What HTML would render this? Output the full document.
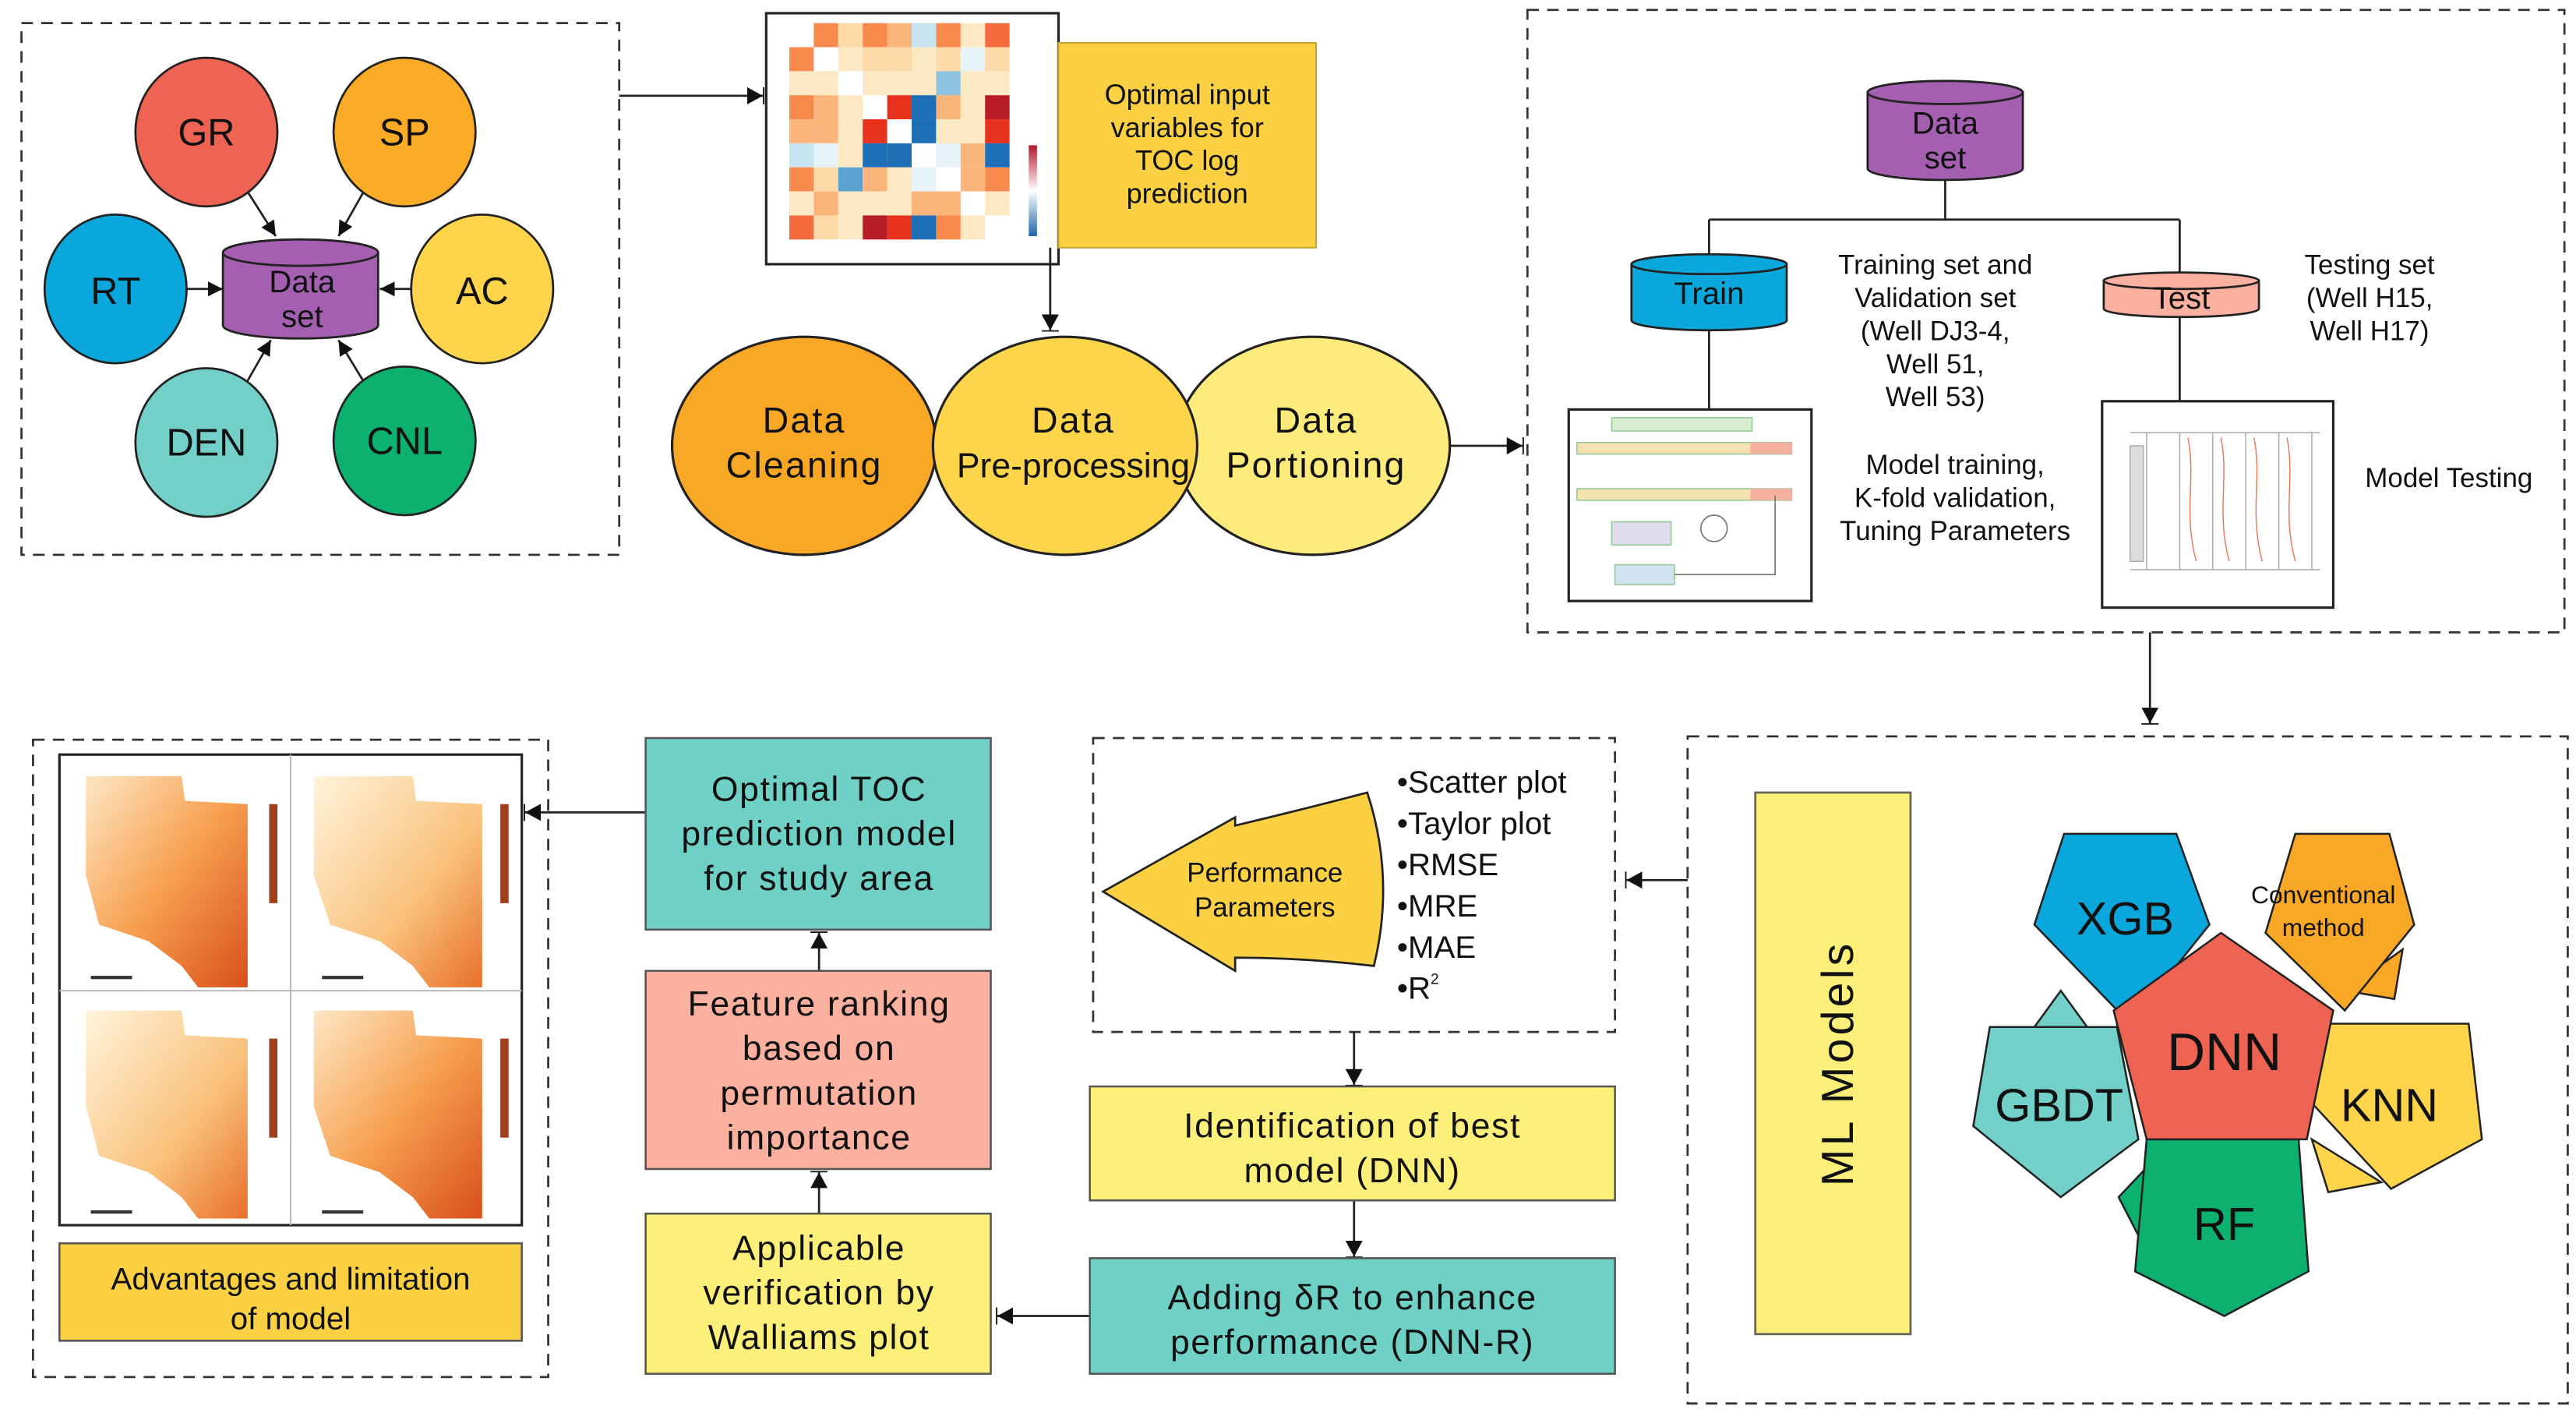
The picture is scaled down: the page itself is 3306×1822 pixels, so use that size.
<!DOCTYPE html>
<html><head><meta charset="utf-8"><style>
html,body{margin:0;padding:0;background:#fff;}
svg{display:block;}
text{font-family:"Liberation Sans",Arial,sans-serif;fill:#111;}
</style></head><body>
<svg width="3306" height="1822" viewBox="0 0 1560 860" preserveAspectRatio="none" xmlns="http://www.w3.org/2000/svg">
<defs>
<marker id="ah" viewBox="0 0 10 10" refX="10" refY="5" markerWidth="7" markerHeight="7" orient="auto"><path d="M0,0 L10,5 L0,10 z" fill="#111"/></marker>
<marker id="bh" viewBox="0 0 12 12" refX="11" refY="6" markerWidth="8" markerHeight="8" orient="auto"><path d="M0,0 L11,6 L0,12 z M11,0 L12,0 L12,12 L11,12z" fill="#111"/></marker>
<linearGradient id="mapg" x1="0" y1="0" x2="1" y2="1"><stop offset="0" stop-color="#fde7c4"/><stop offset="0.5" stop-color="#f7a050"/><stop offset="1" stop-color="#d8501a"/></linearGradient>
<linearGradient id="mapg2" x1="0" y1="0" x2="1" y2="1"><stop offset="0" stop-color="#fff4dc"/><stop offset="0.6" stop-color="#f9c07a"/><stop offset="1" stop-color="#e8702a"/></linearGradient>
<linearGradient id="cb" x1="0" y1="0" x2="0" y2="1"><stop offset="0" stop-color="#b2182b"/><stop offset="0.5" stop-color="#fff"/><stop offset="1" stop-color="#2166ac"/></linearGradient>
</defs>
<g fill="none" stroke="#333" stroke-width="1.3" stroke-dasharray="7,5">
<rect x="13" y="14" width="362" height="322"/>
<rect x="925" y="6" width="628" height="377"/>
<rect x="1022" y="446" width="533" height="404"/>
<rect x="662" y="447" width="316" height="178"/>
<rect x="20" y="448" width="312" height="386"/>
</g>
<g stroke="#222" stroke-width="1.3">
<line x1="148" y1="113" x2="167" y2="143" marker-end="url(#ah)"/>
<line x1="222" y1="113" x2="205" y2="143" marker-end="url(#ah)"/>
<line x1="112" y1="175" x2="135" y2="175" marker-end="url(#ah)"/>
<line x1="250" y1="175" x2="230" y2="175" marker-end="url(#ah)"/>
<line x1="148" y1="234" x2="164" y2="206" marker-end="url(#ah)"/>
<line x1="222" y1="234" x2="205" y2="206" marker-end="url(#ah)"/>
<ellipse cx="125" cy="80" rx="43" ry="45" fill="#ef6352"/>
<ellipse cx="245" cy="80" rx="43" ry="45" fill="#fbab25"/>
<ellipse cx="70" cy="175" rx="43" ry="45" fill="#0aa7dd"/>
<ellipse cx="292" cy="175" rx="43" ry="45" fill="#fdd44a"/>
<ellipse cx="125" cy="268" rx="43" ry="45" fill="#72d0c9"/>
<ellipse cx="245" cy="267" rx="43" ry="45" fill="#0cb06f"/>
<path d="M135,153 L135,197 A47,8 0 0 0 229,197 L229,153 A47,8 0 0 0 135,153 Z" fill="#a45fb0"/>
<ellipse cx="182" cy="153" rx="47" ry="8" fill="#a45fb0"/>
</g>
<g font-size="23" text-anchor="middle">
<text x="125" y="88">GR</text><text x="245" y="88">SP</text><text x="70" y="184">RT</text>
<text x="292" y="184">AC</text><text x="125" y="276">DEN</text><text x="245" y="275">CNL</text>
</g>
<text x="183" y="177" font-size="19" text-anchor="middle">Data</text>
<text x="183" y="198" font-size="19" text-anchor="middle">set</text>
<line x1="375" y1="58" x2="462" y2="58" stroke="#222" stroke-width="1.3" marker-end="url(#bh)"/>
<rect x="464" y="8" width="177" height="152" fill="#fff" stroke="#222" stroke-width="1.5"/>
<g transform="translate(478,14) scale(1.14,1.12) translate(-485,-14)">
<rect x="485" y="14" width="13" height="13" fill="#fff"/><rect x="498" y="14" width="13" height="13" fill="#f98a4d"/><rect x="511" y="14" width="13" height="13" fill="#fdd9a8"/><rect x="524" y="14" width="13" height="13" fill="#f98a4d"/><rect x="537" y="14" width="13" height="13" fill="#fbb57a"/><rect x="550" y="14" width="13" height="13" fill="#c7e4f0"/><rect x="563" y="14" width="13" height="13" fill="#f98a4d"/><rect x="576" y="14" width="13" height="13" fill="#fde8c4"/><rect x="589" y="14" width="13" height="13" fill="#f56b3d"/>
<rect x="485" y="27" width="13" height="13" fill="#f98a4d"/><rect x="498" y="27" width="13" height="13" fill="#fff"/><rect x="511" y="27" width="13" height="13" fill="#fde8c4"/><rect x="524" y="27" width="13" height="13" fill="#fdd9a8"/><rect x="537" y="27" width="13" height="13" fill="#fdd9a8"/><rect x="550" y="27" width="13" height="13" fill="#fde8c4"/><rect x="563" y="27" width="13" height="13" fill="#fdd9a8"/><rect x="576" y="27" width="13" height="13" fill="#e6f3f8"/><rect x="589" y="27" width="13" height="13" fill="#fdd9a8"/>
<rect x="485" y="40" width="13" height="13" fill="#fde8c4"/><rect x="498" y="40" width="13" height="13" fill="#fde8c4"/><rect x="511" y="40" width="13" height="13" fill="#fff"/><rect x="524" y="40" width="13" height="13" fill="#fde8c4"/><rect x="537" y="40" width="13" height="13" fill="#fde8c4"/><rect x="550" y="40" width="13" height="13" fill="#fde8c4"/><rect x="563" y="40" width="13" height="13" fill="#8ec2de"/><rect x="576" y="40" width="13" height="13" fill="#fde8c4"/><rect x="589" y="40" width="13" height="13" fill="#fde8c4"/>
<rect x="485" y="53" width="13" height="13" fill="#f98a4d"/><rect x="498" y="53" width="13" height="13" fill="#fbb57a"/><rect x="511" y="53" width="13" height="13" fill="#fde8c4"/><rect x="524" y="53" width="13" height="13" fill="#fff"/><rect x="537" y="53" width="13" height="13" fill="#e8321e"/><rect x="550" y="53" width="13" height="13" fill="#1f6fb7"/><rect x="563" y="53" width="13" height="13" fill="#fbb57a"/><rect x="576" y="53" width="13" height="13" fill="#fde8c4"/><rect x="589" y="53" width="13" height="13" fill="#b81d25"/>
<rect x="485" y="66" width="13" height="13" fill="#fbb57a"/><rect x="498" y="66" width="13" height="13" fill="#fbb57a"/><rect x="511" y="66" width="13" height="13" fill="#fde8c4"/><rect x="524" y="66" width="13" height="13" fill="#e8321e"/><rect x="537" y="66" width="13" height="13" fill="#fff"/><rect x="550" y="66" width="13" height="13" fill="#1f6fb7"/><rect x="563" y="66" width="13" height="13" fill="#fde8c4"/><rect x="576" y="66" width="13" height="13" fill="#fde8c4"/><rect x="589" y="66" width="13" height="13" fill="#e8321e"/>
<rect x="485" y="79" width="13" height="13" fill="#c7e4f0"/><rect x="498" y="79" width="13" height="13" fill="#e6f3f8"/><rect x="511" y="79" width="13" height="13" fill="#fde8c4"/><rect x="524" y="79" width="13" height="13" fill="#1f6fb7"/><rect x="537" y="79" width="13" height="13" fill="#1f6fb7"/><rect x="550" y="79" width="13" height="13" fill="#fff"/><rect x="563" y="79" width="13" height="13" fill="#e6f3f8"/><rect x="576" y="79" width="13" height="13" fill="#fbb57a"/><rect x="589" y="79" width="13" height="13" fill="#1f6fb7"/>
<rect x="485" y="92" width="13" height="13" fill="#f98a4d"/><rect x="498" y="92" width="13" height="13" fill="#fdd9a8"/><rect x="511" y="92" width="13" height="13" fill="#5ba3cf"/><rect x="524" y="92" width="13" height="13" fill="#fbb57a"/><rect x="537" y="92" width="13" height="13" fill="#fde8c4"/><rect x="550" y="92" width="13" height="13" fill="#e6f3f8"/><rect x="563" y="92" width="13" height="13" fill="#fff"/><rect x="576" y="92" width="13" height="13" fill="#fbb57a"/><rect x="589" y="92" width="13" height="13" fill="#f98a4d"/>
<rect x="485" y="105" width="13" height="13" fill="#fde8c4"/><rect x="498" y="105" width="13" height="13" fill="#fbb57a"/><rect x="511" y="105" width="13" height="13" fill="#fde8c4"/><rect x="524" y="105" width="13" height="13" fill="#fde8c4"/><rect x="537" y="105" width="13" height="13" fill="#fde8c4"/><rect x="550" y="105" width="13" height="13" fill="#fbb57a"/><rect x="563" y="105" width="13" height="13" fill="#fbb57a"/><rect x="576" y="105" width="13" height="13" fill="#fff"/><rect x="589" y="105" width="13" height="13" fill="#fde8c4"/>
<rect x="485" y="118" width="13" height="13" fill="#f56b3d"/><rect x="498" y="118" width="13" height="13" fill="#fdd9a8"/><rect x="511" y="118" width="13" height="13" fill="#fde8c4"/><rect x="524" y="118" width="13" height="13" fill="#b81d25"/><rect x="537" y="118" width="13" height="13" fill="#e8321e"/><rect x="550" y="118" width="13" height="13" fill="#1f6fb7"/><rect x="563" y="118" width="13" height="13" fill="#f98a4d"/><rect x="576" y="118" width="13" height="13" fill="#fde8c4"/><rect x="589" y="118" width="13" height="13" fill="#fff"/>
</g>
<rect x="623" y="88" width="5" height="55" fill="url(#cb)"/>
<rect x="641" y="26" width="156" height="124" fill="#fbd143" stroke="#c9a530" stroke-width="1"/>
<g font-size="17" text-anchor="middle"><text x="719" y="63">Optimal input</text><text x="719" y="83">variables for</text><text x="719" y="103">TOC log</text><text x="719" y="123">prediction</text></g>
<line x1="636" y1="150" x2="636" y2="200" stroke="#222" stroke-width="1.3" marker-end="url(#bh)"/>
<g stroke="#222" stroke-width="1.5">
<ellipse cx="487" cy="270" rx="80" ry="66" fill="#f8a824"/>
<ellipse cx="795" cy="270" rx="83" ry="66" fill="#fdeb7c"/>
<ellipse cx="645" cy="270" rx="80" ry="66" fill="#fcd54a"/>
</g>
<g font-size="22" text-anchor="middle" letter-spacing="1">
<text x="487" y="262">Data</text><text x="487" y="289">Cleaning</text>
<text x="650" y="262">Data</text><text x="650" y="289" font-size="21" letter-spacing="0">Pre-processing</text>
<text x="797" y="262">Data</text><text x="797" y="289">Portioning</text>
</g>
<line x1="878" y1="270" x2="922" y2="270" stroke="#222" stroke-width="1.3" marker-end="url(#bh)"/>
<g stroke="#222" stroke-width="1.3" fill="none">
<path d="M1178,108 V133 M1035,133 H1320 M1035,133 V155 M1320,133 V167 M1035,198 V248 M1320,190 V243"/>
</g>
<g stroke="#222" stroke-width="1.3">
<path d="M1131,56 L1131,102 A47,7 0 0 0 1225,102 L1225,56 Z" fill="#a45fb0"/>
<ellipse cx="1178" cy="56" rx="47" ry="7" fill="#a45fb0"/>
<path d="M988,160 L988,194 A47,6 0 0 0 1082,194 L1082,160 Z" fill="#0aa7dd"/>
<ellipse cx="1035" cy="160" rx="47" ry="6" fill="#0aa7dd"/>
<path d="M1274,170 L1274,187 A47,5 0 0 0 1368,187 L1368,170 Z" fill="#fbb0a0"/>
<ellipse cx="1321" cy="170" rx="47" ry="5" fill="#fbb0a0"/>
</g>
<g font-size="19" text-anchor="middle"><text x="1178" y="81">Data</text><text x="1178" y="102">set</text>
<text x="1035" y="184">Train</text><text x="1321" y="187">Test</text></g>
<g font-size="16.5" text-anchor="middle">
<text x="1172" y="166">Training set and</text><text x="1172" y="186">Validation set</text><text x="1172" y="206">(Well DJ3-4,</text><text x="1172" y="226">Well 51,</text><text x="1172" y="246">Well 53)</text>
<text x="1435" y="166">Testing set</text><text x="1435" y="186">(Well H15,</text><text x="1435" y="206">Well H17)</text>
<text x="1184" y="287">Model training,</text><text x="1184" y="307">K-fold validation,</text><text x="1184" y="327">Tuning Parameters</text>
<text x="1483" y="295">Model Testing</text>
</g>
<rect x="950" y="248" width="147" height="116" fill="#fff" stroke="#222" stroke-width="1.5"/>
<g stroke="#9c9" stroke-width="0.8">
<rect x="976" y="253" width="85" height="8" fill="#d8ecd0"/>
<rect x="955" y="268" width="130" height="7" fill="#f5e2b0"/>
<rect x="955" y="296" width="130" height="7" fill="#f5e2b0"/>
<rect x="976" y="316" width="36" height="14" fill="#dde"/>
<rect x="978" y="342" width="36" height="12" fill="#cfe3f3"/>
</g>
<rect x="1060" y="268" width="25" height="7" fill="#f6b0a0"/><rect x="1060" y="296" width="25" height="7" fill="#f6b0a0"/>
<path d="M1014,348 H1075 V300 M1030,320 a8,8 0 1 0 16,0 a8,8 0 1 0 -16,0" stroke="#777" fill="none" stroke-width="0.8"/>
<rect x="1273" y="243" width="140" height="125" fill="#fff" stroke="#222" stroke-width="1.5"/>
<g stroke="#aaa" stroke-width="0.7" fill="none">
<path d="M1290,262 H1405 M1290,345 H1405 M1300,262 V345 M1320,262 V345 M1340,262 V345 M1360,262 V345 M1380,262 V345 M1400,262 V345"/>
<path d="M1325,265 C1330,290 1322,310 1330,340 M1345,265 C1350,290 1342,310 1350,340 M1365,265 C1370,290 1362,310 1370,340 M1385,265 C1390,290 1382,310 1390,340" stroke="#e87a5a"/>
<rect x="1290" y="270" width="8" height="70" fill="#ddd"/>
</g>
<line x1="1302" y1="383" x2="1302" y2="438" stroke="#222" stroke-width="1.3" marker-end="url(#bh)"/>
<rect x="1063" y="480" width="94" height="328" fill="#fdf07a" stroke="#665" stroke-width="1.3"/>
<text transform="translate(1122,644) rotate(-90)" font-size="27" text-anchor="middle" letter-spacing="2">ML Models</text>
<g stroke="#222" stroke-width="1.2">
<polygon points="1455,575 1450,605 1420,600" fill="#f9a826"/>
<polygon points="1400,690 1410,722 1442,716" fill="#fdd44a"/>
<polygon points="1283,725 1302,705 1300,758" fill="#0cb06f"/>
<polygon points="1232,622 1248,600 1264,622" fill="#72d0c9"/>
<polygon points="1250,505 1318,505 1338,560 1290,620 1232,560" fill="#0aa7dd"/>
<polygon points="1390,505 1447,505 1462,560 1420,612 1372,565" fill="#f9a826"/>
<polygon points="1205,622 1282,622 1295,690 1248,725 1195,682" fill="#72d0c9"/>
<polygon points="1405,620 1495,620 1503,690 1448,720 1400,668" fill="#fdd44a"/>
<polygon points="1300,690 1392,690 1398,770 1347,797 1293,770" fill="#0cb06f"/>
<polygon points="1345,565 1413,612 1397,690 1300,690 1280,612" fill="#ef6352"/>
</g>
<g text-anchor="middle">
<text x="1287" y="566" font-size="28">XGB</text>
<text x="1407" y="547" font-size="15">Conventional</text><text x="1407" y="567" font-size="15">method</text>
<text x="1347" y="648" font-size="32">DNN</text>
<text x="1247" y="679" font-size="28">GBDT</text>
<text x="1447" y="679" font-size="28">KNN</text>
<text x="1347" y="751" font-size="28">RF</text>
</g>
<line x1="1022" y1="533" x2="985" y2="533" stroke="#222" stroke-width="1.3" marker-end="url(#bh)"/>
<path d="M668,540 L748,495 L748,500 Q790,490 828,480 Q845,532 832,585 Q790,580 748,580 L748,588 Z" fill="#fbd143" stroke="#222" stroke-width="1.3"/>
<text x="766" y="534" font-size="16.5" text-anchor="middle">Performance</text>
<text x="766" y="555" font-size="16.5" text-anchor="middle">Parameters</text>
<g font-size="19">
<text x="846" y="480">•Scatter plot</text><text x="846" y="505">•Taylor plot</text><text x="846" y="530">•RMSE</text>
<text x="846" y="555">•MRE</text><text x="846" y="580">•MAE</text><text x="846" y="605">•R<tspan font-size="9" dy="-9">2</tspan></text>
</g>
<g stroke="#222" stroke-width="1.3">
<line x1="820" y1="625" x2="820" y2="657" marker-end="url(#bh)"/>
<line x1="820" y1="727" x2="820" y2="761" marker-end="url(#bh)"/>
<line x1="660" y1="797" x2="604" y2="797" marker-end="url(#bh)"/>
<line x1="496" y1="735" x2="496" y2="710" marker-end="url(#bh)"/>
<line x1="496" y1="588" x2="496" y2="565" marker-end="url(#bh)"/>
<line x1="391" y1="492" x2="318" y2="492" marker-end="url(#bh)"/>
</g>
<g stroke="#555" stroke-width="1.2">
<rect x="660" y="658" width="318" height="69" fill="#fdf07a"/>
<rect x="660" y="762" width="318" height="70" fill="#6fd0c5"/>
<rect x="391" y="735" width="209" height="97" fill="#fdf07a"/>
<rect x="391" y="588" width="209" height="120" fill="#fbb0a0"/>
<rect x="391" y="447" width="209" height="116" fill="#6fd0c5"/>
<rect x="36" y="753" width="280" height="59" fill="#fbd143"/>
</g>
<g font-size="21" text-anchor="middle" letter-spacing="0.8">
<text x="819" y="689">Identification of best</text><text x="819" y="716">model (DNN)</text>
<text x="819" y="793">Adding δR to enhance</text><text x="819" y="820">performance (DNN-R)</text>
<text x="496" y="763">Applicable</text><text x="496" y="790">verification by</text><text x="496" y="817">Walliams plot</text>
<text x="496" y="615">Feature ranking</text><text x="496" y="642">based on</text><text x="496" y="669">permutation</text><text x="496" y="696">importance</text>
<text x="496" y="485">Optimal TOC</text><text x="496" y="512">prediction model</text><text x="496" y="539">for study area</text>
</g>
<g font-size="19" text-anchor="middle"><text x="176" y="781">Advantages and limitation</text><text x="176" y="805">of model</text></g>
<rect x="36" y="457" width="280" height="285" fill="#fff" stroke="#222" stroke-width="1.5"/>
<line x1="176" y1="457" x2="176" y2="742" stroke="#bbb"/><line x1="36" y1="600" x2="316" y2="600" stroke="#bbb"/>
<path d="M52,470 L110,470 L112,485 L150,487 L150,598 L120,598 L110,585 L90,570 L60,560 L52,530 Z" fill="url(#mapg)"/>
<path d="M190,470 L250,470 L252,485 L292,487 L292,598 L260,598 L250,585 L230,570 L200,560 L190,530 Z" fill="url(#mapg2)"/>
<path d="M52,612 L110,612 L112,627 L150,629 L150,738 L120,738 L110,725 L90,710 L60,700 L52,670 Z" fill="url(#mapg2)"/>
<path d="M190,612 L250,612 L252,627 L292,629 L292,738 L260,738 L250,725 L230,710 L200,700 L190,670 Z" fill="url(#mapg)"/>
<g fill="#a0401a"><rect x="163" y="487" width="5" height="60"/><rect x="303" y="487" width="5" height="60"/><rect x="163" y="629" width="5" height="60"/><rect x="303" y="629" width="5" height="60"/></g>
<g fill="#333"><rect x="55" y="591" width="25" height="2"/><rect x="195" y="591" width="25" height="2"/><rect x="55" y="733" width="25" height="2"/><rect x="195" y="733" width="25" height="2"/></g>
</svg>
</body></html>
